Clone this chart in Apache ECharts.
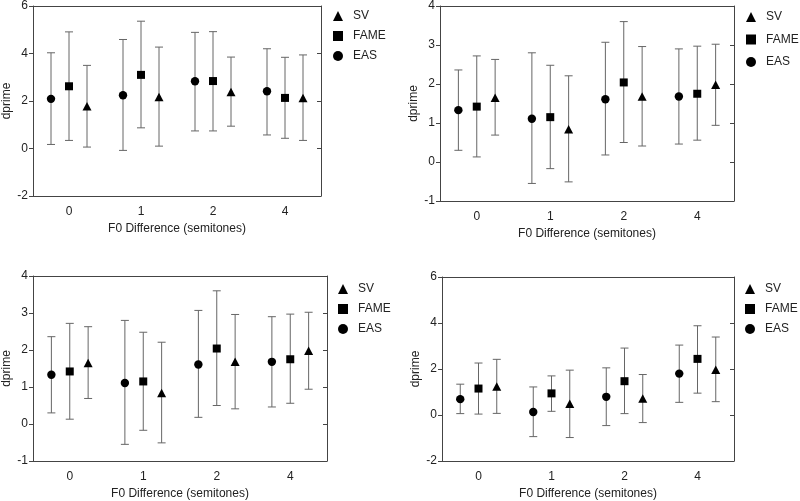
<!DOCTYPE html>
<html>
<head>
<meta charset="utf-8">
<script src="https://cdn.jsdelivr.net/npm/echarts@6/dist/echarts.min.js"></script>
<style>
  html, body { margin: 0; padding: 0; background: #fff; }
  #main { width: 800px; height: 501px; }
</style>
</head>
<body>
<div id="main"></div>
<script>
  // categories on the x axis (F0 difference in semitones)
  var categories = ['0', '1', '2', '4'];

  // each row: [mean, lower, upper]  (one row per category)
  var p1EAS  = [[2.09, 0.17, 4.03], [2.24, -0.08, 4.59], [2.83, 0.74, 4.89], [2.41, 0.57, 4.20]];
  var p1FAME = [[2.62, 0.34, 4.91], [3.10, 0.87, 5.36], [2.84, 0.74, 4.92], [2.13, 0.43, 3.84]];
  var p1SV   = [[1.75, 0.06, 3.50], [2.14, 0.10, 4.27], [2.35, 0.94, 3.85], [2.09, 0.34, 3.94]];

  // top right and bottom left panels show the same numbers
  var p2EAS  = [[1.33, 0.30, 2.36], [1.11, -0.55, 2.80], [1.61, 0.18, 3.07], [1.68, 0.46, 2.90]];
  var p2FAME = [[1.42, 0.13, 2.72], [1.15, -0.17, 2.48], [2.04, 0.50, 3.60], [1.75, 0.56, 2.97]];
  var p2SV   = [[1.63, 0.69, 2.63], [0.82, -0.51, 2.21], [1.66, 0.41, 2.96], [1.96, 0.94, 3.02]];

  var p4EAS  = [[0.69, 0.06, 1.34], [0.13, -0.94, 1.22], [0.79, -0.46, 2.05], [1.80, 0.55, 3.04]];
  var p4FAME = [[1.15, 0.04, 2.26], [0.94, 0.16, 1.70], [1.47, 0.06, 2.91], [2.44, 0.95, 3.88]];
  var p4SV   = [[1.21, 0.07, 2.42], [0.46, -0.98, 1.95], [0.68, -0.33, 1.76], [1.93, 0.58, 3.39]];

  var yTicks1 = [-2, 6, 2];   // min, max, interval
  var yTicks2 = [-1, 4, 1];

  var panels = [
    { grid: { left: 33, top: 6, width: 288, height: 190 }, y: yTicks1, legend: { left: 333, top: 10, gap: 8 }, data: { SV: p1SV, FAME: p1FAME, EAS: p1EAS } },
    { grid: { left: 440, top: 5, width: 294, height: 196 }, y: yTicks2, legend: { left: 746, top: 11, gap: 10.5 }, data: { SV: p2SV, FAME: p2FAME, EAS: p2EAS } },
    { grid: { left: 33, top: 276, width: 294, height: 186 }, y: yTicks2, legend: { left: 338, top: 283, gap: 8 }, data: { SV: p2SV, FAME: p2FAME, EAS: p2EAS } },
    { grid: { left: 442, top: 277, width: 292, height: 186 }, y: yTicks1, legend: { left: 745, top: 283, gap: 8 }, data: { SV: p4SV, FAME: p4FAME, EAS: p4EAS } }
  ];

  var offsets = { EAS: -0.25, FAME: 0, SV: 0.25 };
  var axisColor = '#444';
  var barColor = '#666';
  var font = 'Liberation Sans';

  function makeRender(name) {
    return function (params, api) {
      var c = api.coord([api.value(0), api.value(1)]);
      var lo = api.coord([api.value(0), api.value(2)]);
      var hi = api.coord([api.value(0), api.value(3)]);
      var bw = api.size([1, 0])[0];
      var x = c[0] + offsets[name] * bw;
      var cap = 4;
      var ls = { stroke: barColor, lineWidth: 1 };
      var kids = [
        { type: 'line', shape: { x1: x, y1: lo[1], x2: x, y2: hi[1] }, style: ls },
        { type: 'line', shape: { x1: x - cap, y1: lo[1], x2: x + cap, y2: lo[1] }, style: ls },
        { type: 'line', shape: { x1: x - cap, y1: hi[1], x2: x + cap, y2: hi[1] }, style: ls }
      ];
      var y = c[1];
      if (name === 'EAS') {
        kids.push({ type: 'circle', shape: { cx: x, cy: y, r: 4.2 }, style: { fill: '#000' } });
      } else if (name === 'FAME') {
        kids.push({ type: 'rect', shape: { x: x - 4, y: y - 4, width: 8, height: 8 }, style: { fill: '#000' } });
      } else {
        kids.push({ type: 'polygon', shape: { points: [[x, y - 5], [x + 4.5, y + 3.5], [x - 4.5, y + 3.5]] }, style: { fill: '#000' } });
      }
      return { type: 'group', children: kids };
    };
  }

  var grids = [], xAxes = [], yAxes = [], series = [], legends = [];

  panels.forEach(function (p, i) {
    grids.push(p.grid);
    // bottom and top x axes
    xAxes.push({
      type: 'category', data: categories, gridIndex: i, position: 'bottom',
      name: 'F0 Difference (semitones)', nameLocation: 'middle', nameGap: 27,
      nameTextStyle: { color: '#222', fontSize: 12, fontFamily: font },
      axisLine: { onZero: false, lineStyle: { color: axisColor } },
      axisTick: { alignWithLabel: true, length: 4, lineStyle: { color: axisColor } },
      axisLabel: { color: '#222', fontSize: 12, fontFamily: font, margin: 10 }
    });
    xAxes.push({
      type: 'category', data: categories, gridIndex: i, position: 'top',
      axisLine: { onZero: false, lineStyle: { color: axisColor } },
      axisTick: { alignWithLabel: true, inside: true, length: 4, lineStyle: { color: axisColor } },
      axisLabel: { show: false }
    });
    // left and right y axes
    yAxes.push({
      type: 'value', gridIndex: i, position: 'left',
      min: p.y[0], max: p.y[1], interval: p.y[2],
      name: 'dprime', nameLocation: 'middle', nameGap: 20, nameRotate: 90,
      nameTextStyle: { color: '#222', fontSize: 12, fontFamily: font },
      axisLine: { show: true, onZero: false, lineStyle: { color: axisColor } },
      axisTick: { show: true, length: 4, lineStyle: { color: axisColor } },
      axisLabel: { color: '#222', fontSize: 12, fontFamily: font, margin: 5 },
      splitLine: { show: false }
    });
    yAxes.push({
      type: 'value', gridIndex: i, position: 'right',
      min: p.y[0], max: p.y[1], interval: p.y[2],
      axisLine: { show: true, onZero: false, lineStyle: { color: axisColor } },
      axisTick: { show: true, inside: true, length: 4, lineStyle: { color: axisColor } },
      axisLabel: { show: false },
      splitLine: { show: false }
    });

    ['EAS', 'FAME', 'SV'].forEach(function (name) {
      var rows = p.data[name].map(function (r, k) { return [k, r[0], r[1], r[2]]; });
      series.push({
        name: name, type: 'custom',
        xAxisIndex: i * 2, yAxisIndex: i * 2,
        itemStyle: { color: '#000' },
        encode: { x: 0, y: [1, 2, 3] },
        renderItem: makeRender(name),
        data: rows,
        z: 3
      });
    });

    legends.push({
      left: p.legend.left, top: p.legend.top, orient: 'vertical',
      padding: 0,
      itemWidth: 10, itemHeight: 10, itemGap: p.legend.gap,
      selectedMode: false,
      formatter: function (name) { return '{t|' + name + '}'; },
      textStyle: {
        color: '#222', fontSize: 12, fontFamily: font,
        rich: { t: { color: '#222', fontSize: 12, fontFamily: font, padding: [0, 0, 0, 5] } }
      },
      data: [
        { name: 'SV', icon: 'triangle' },
        { name: 'FAME', icon: 'rect' },
        { name: 'EAS', icon: 'circle' }
      ]
    });
  });

  var myChart = echarts.init(document.getElementById('main'));
  myChart.setOption({
    animation: false,
    backgroundColor: '#fff',
    grid: grids,
    xAxis: xAxes,
    yAxis: yAxes,
    legend: legends,
    series: series
  });
</script>
</body>
</html>
